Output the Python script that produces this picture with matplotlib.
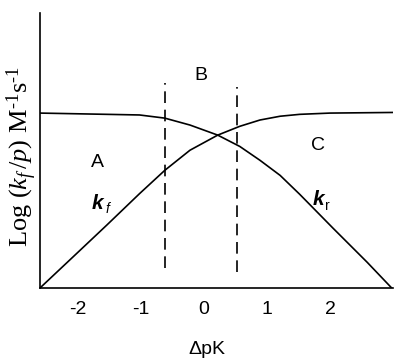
import numpy as np
import matplotlib.pyplot as plt

# curve readings (delta pK, log rate)
dpk_f = [-2.60, -2.08, -1.54, -1.02, -0.62, -0.22, 0.22, 0.57, 0.89, 1.21, 1.52, 2.00, 3.00]
log_kf = [0.00, 0.49, 1.00, 1.50, 1.87, 2.19, 2.43, 2.57, 2.67, 2.73, 2.76, 2.78, 2.79]

dpk_r = [-2.60, -1.54, -1.02, -0.62, -0.22, 0.22, 0.57, 0.89, 1.21, 1.52, 2.05, 2.59, 2.98]
log_kr = [2.78, 2.76, 2.75, 2.70, 2.59, 2.43, 2.25, 2.03, 1.79, 1.49, 0.95, 0.41, 0.00]

# region boundaries
bound_x = [-0.62, 0.52]
bound_lo = [0.32, 0.25]
bound_hi = [3.25, 3.19]

xticks = [-2, -1, 0, 1, 2]

plt.rcParams['mathtext.fontset'] = 'custom'
plt.rcParams['mathtext.it'] = 'Liberation Serif:italic'
plt.rcParams['mathtext.rm'] = 'Liberation Serif'

fig = plt.figure(figsize=(3.95, 3.61), dpi=100)
ax = fig.add_axes([0.101, 0.202, 0.894, 0.762])

ax.plot(dpk_f, log_kf, color='black', lw=1.2)
ax.plot(dpk_r, log_kr, color='black', lw=1.2)
for x, lo, hi in zip(bound_x, bound_lo, bound_hi):
    ax.plot([x, x], [lo, hi], color='black', lw=1.2, dashes=(7, 4))

ax.set_xlim(-2.6, 3.0)
ax.set_ylim(0, 4.37)
ax.spines['top'].set_visible(False)
ax.spines['right'].set_visible(False)
ax.spines['left'].set_linewidth(1.2)
ax.spines['bottom'].set_linewidth(1.2)
ax.set_yticks([])
ax.set_xticks(xticks)
ax.set_xticklabels([str(t) for t in xticks], family='Liberation Sans', fontsize=14)
ax.tick_params(axis='x', length=0, pad=9)

sans = dict(family='Liberation Sans', fontsize=14, ha='center', va='center')
ax.text(-1.68, 2.0, 'A', **sans)
ax.text(-0.05, 3.38, 'B', **sans)
ax.text(1.81, 2.27, 'C', **sans)

# curve names: bold italic k with a small subscript
for x, y, sub, sty in [(-1.68, 1.35, 'f', 'italic'), (1.81, 1.40, 'r', 'normal')]:
    ax.text(x, y, 'k', family='Liberation Sans', fontsize=15, weight='bold',
            style='italic', ha='center', va='center')
    ax.annotate(sub, (x, y), xytext=(7, -4), textcoords='offset points',
                family='Liberation Sans', fontsize=10, style=sty,
                ha='center', va='center')

fig.text(207 / 395, 1 - 350 / 361, 'ΔpK', family='Liberation Sans', fontsize=14,
         ha='center', va='center')
fig.text(22 / 395, 1 - 157 / 361,
         'Log ($k_{f}\\,/p$) M$^{\\mathrm{\u2010}1}$s$^{\\mathrm{\u2010}1}$',
         family='Liberation Serif', fontsize=19, rotation=90, ha='center', va='center')

fig.savefig('out.png', dpi=100)
